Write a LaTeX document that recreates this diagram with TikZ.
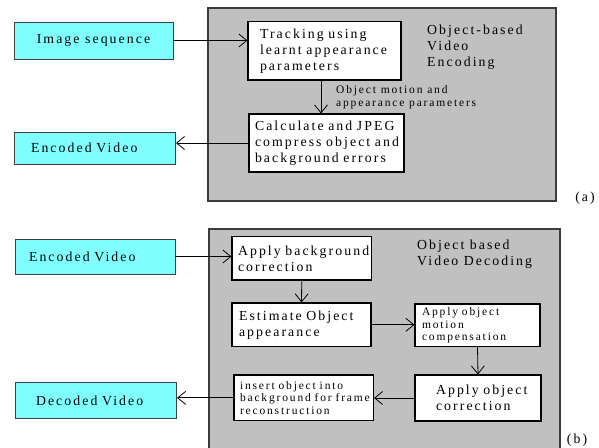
\documentclass[tikz,border=0pt]{standalone}
\usepackage{fontspec}
\setmainfont{Liberation Serif}
\newfontfamily\bigfam{Liberation Serif}[LetterSpace=15]
\newfontfamily\smallfam{Liberation Serif}[LetterSpace=16]
\usetikzlibrary{arrows.meta}
\definecolor{boxcyan}{HTML}{80FFFF}
\definecolor{panelgray}{HTML}{C0C0C0}
\definecolor{paneledge}{HTML}{3C3C3C}
\tikzset{
  bigtxt/.style={font=\bigfam\fontsize{13.8}{16}\selectfont},
  smalltxt/.style={font=\smallfam\fontsize{11.5}{12.5}\selectfont},
  panel/.style={draw=paneledge, line width=1.3pt, fill=panelgray},
  wbox/.style={draw=black, line width=1.1pt, fill=white, rectangle, inner ysep=0pt, align=left},
  cbox/.style={draw=black!75, line width=0.9pt, fill=boxcyan, rectangle, inner ysep=0pt, align=left},
  arr/.style={draw=black, line width=0.8pt, -{Straight Barb[length=8pt,width=13pt,line width=0.8pt]}},
  plain/.style={inner sep=0pt, align=left}
}
\begin{document}
\begin{tikzpicture}[x=1pt,y=-1pt]
\useasboundingbox (0,0) rectangle (599,447);
\clip (0,0) rectangle (599,447);
\fill[white] (0,0) rectangle (599,447);
% ---------- (a) panel ----------
\draw[panel] (208,8) rectangle (556,201);
\node[cbox, bigtxt, minimum height=37pt, minimum width=159pt, align=center] (imgseq) at (93.5,40.5) {Image sequence};
\node[wbox, bigtxt, minimum height=58.5pt, inner xsep=12pt, text width=129pt] (track) at (324.5,50.75) {\mbox{Tracking using}\\\mbox{learnt appearance}\\\mbox{parameters}};
\node[wbox, bigtxt, minimum height=58pt, inner xsep=6pt, text width=143pt] (calc) at (326.5,143) {\mbox{Calculate and JPEG}\\\mbox{compress object and}\\\mbox{background errors}};
\node[cbox, bigtxt, minimum height=32pt, inner xsep=17pt, text width=127.5pt] (enc1) at (94.75,148) {\mbox{Encoded Video}};
\node[plain, bigtxt, anchor=north west] (enclabel) at (427,25) {Object-based\\Video\\Encoding};
\node[plain, smalltxt, anchor=west] (paramlabel) at (336,97) {Object motion and\\appearance parameters};
\node[plain, bigtxt] (tagA) at (585,198) {(a)};
\coordinate (ax) at (321,0);
\draw[arr] (imgseq.east) -- (imgseq.east -| track.west);
\draw[arr] (track.south -| ax) -- (calc.north -| ax);
\draw[arr] (calc.west) -- (calc.west -| enc1.east);
% ---------- (b) panel ----------
\draw[panel] (209,229) rectangle (560,455);
\node[cbox, bigtxt, minimum height=35pt, inner xsep=14pt, text width=132pt] (enc2) at (95,256.5) {\mbox{Encoded Video}};
\node[wbox, bigtxt, minimum height=43.3pt, inner xsep=6pt, text width=127.5pt] (applybg) at (301.75,258.3) {\mbox{Apply background}\\\mbox{correction}};
\node[wbox, bigtxt, minimum height=43.7pt, inner xsep=7pt, text width=125pt] (estimate) at (301.5,324.8) {\mbox{Estimate Object}\\\mbox{appearance}};
\node[wbox, smalltxt, minimum height=42.7pt, inner xsep=7pt, text width=111pt] (motion) at (477.5,325.3) {\mbox{Apply object}\\\mbox{motion}\\\mbox{compensation}};
\node[wbox, bigtxt, minimum height=46pt, inner xsep=21pt, text width=84pt] (correct) at (478,398) {\mbox{Apply object}\\\mbox{correction}};
\node[wbox, smalltxt, minimum height=45.7pt, inner xsep=6pt, text width=127.5pt] (insert) at (303.75,397.85) {\mbox{insert object into}\\\mbox{background for frame}\\\mbox{reconstruction}};
\node[cbox, bigtxt, minimum height=36.7pt, inner xsep=21pt, text width=119.6pt] (dec) at (95.8,400.35) {\mbox{Decoded Video}};
\node[plain, bigtxt, anchor=north west] (declabel) at (417,240) {Object based\\Video Decoding};
\node[plain, bigtxt] (tagB) at (577,440) {(b)};
\draw[arr] (enc2.east) -- (enc2.east -| applybg.west);
\draw[arr] (applybg.south) -- (estimate.north);
\draw[arr] (estimate.east) -- (estimate.east -| motion.west);
\draw[arr] (motion.south) -- (correct.north);
\draw[arr] (correct.west) -- (correct.west -| insert.east);
\draw[arr] (insert.west) -- (insert.west -| dec.east);
\end{tikzpicture}
\end{document}
